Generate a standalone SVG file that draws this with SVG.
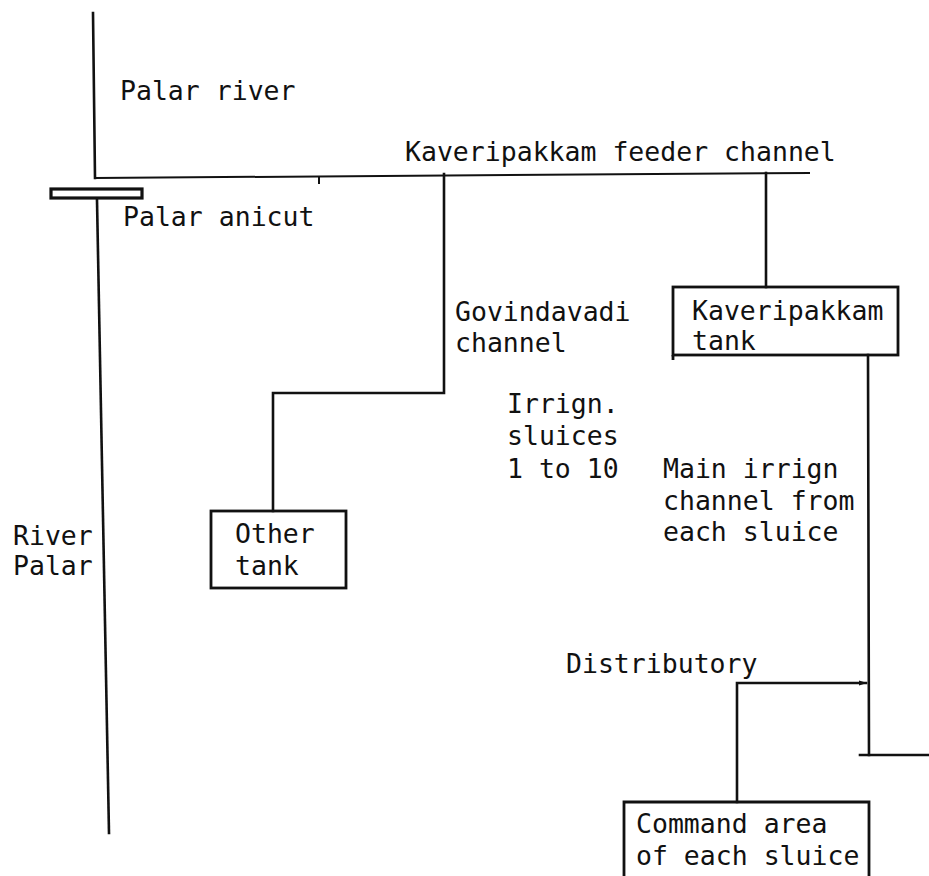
<svg xmlns="http://www.w3.org/2000/svg" width="929" height="876" viewBox="0 0 929 876">
<style>
text{font-family:"DejaVu Sans Mono","Liberation Mono",monospace;font-size:26.5px;fill:#111}
.ln{stroke:#111;stroke-width:2.6;fill:none;stroke-linecap:square}
.thin{stroke:#111;stroke-width:2;fill:none}
.box{stroke:#111;stroke-width:2.8;fill:none}
</style>
<defs>
<marker id="tip" markerWidth="8" markerHeight="6" refX="7" refY="3" orient="auto" markerUnits="userSpaceOnUse">
<path d="M0,0.5 L8,3 L0,5.5 Z" fill="#111"/>
</marker>
</defs>
<rect width="929" height="876" fill="#fff"/>
<g id="connectors">
<line class="ln" x1="93" y1="13" x2="95" y2="178"/>
<line class="thin" x1="95" y1="178" x2="810" y2="173"/>
<line class="thin" x1="319" y1="177" x2="319" y2="184"/>
<line class="ln" x1="97" y1="200" x2="109" y2="833"/>
<polyline class="ln" points="444,174 444,393 273,393 273,511"/>
<line class="ln" x1="766" y1="173" x2="766" y2="287"/>
<line class="ln" x1="868" y1="355" x2="869" y2="755"/>
<line class="ln" x1="860" y1="755" x2="929" y2="755"/>
<polyline class="ln" points="737,802 737,683 866,683" marker-end="url(#tip)"/>
</g>
<g id="anicut">
<rect x="51" y="189" width="91" height="9" fill="#fff" stroke="#111" stroke-width="3.2"/>
</g>
<g id="kaveripakkam-tank">
<rect class="box" x="673" y="287" width="225" height="68"/>
<line class="box" x1="673" y1="355" x2="673" y2="360"/>
<text x="692" y="320">Kaveripakkam</text>
<text x="692" y="350">tank</text>
</g>
<g id="other-tank">
<rect class="box" x="211" y="511" width="135" height="77"/>
<text x="235" y="543">Other</text>
<text x="235" y="575">tank</text>
</g>
<g id="command-area">
<path class="box" d="M624,880 V802 H869 V880"/>
<text x="636" y="833">Command area</text>
<text x="636" y="865">of each sluice</text>
</g>
<g id="labels">
<text x="120" y="100">Palar river</text>
<text x="405" y="161">Kaveripakkam feeder channel</text>
<text x="123" y="226">Palar anicut</text>
<text x="455" y="321">Govindavadi</text>
<text x="455" y="352">channel</text>
<text x="507" y="413">Irrign.</text>
<text x="507" y="445">sluices</text>
<text x="507" y="478">1 to 10</text>
<text x="663" y="478">Main irrign</text>
<text x="663" y="510">channel from</text>
<text x="663" y="541">each sluice</text>
<text x="13" y="545">River</text>
<text x="13" y="575">Palar</text>
<text x="566" y="673">Distributory</text>
</g>
</svg>
